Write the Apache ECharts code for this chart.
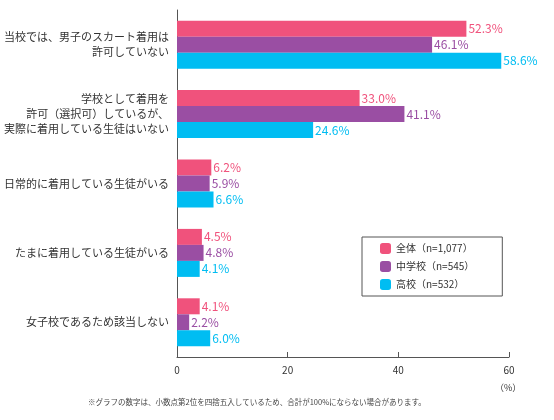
<!DOCTYPE html>
<html><head><meta charset="utf-8">
<script src="https://cdn.jsdelivr.net/npm/echarts@6/dist/echarts.min.js"></script>
<style>body{margin:0}#c{width:554px;height:420px}</style></head>
<body><div id="c"></div>
<script>
var categories = ['当校では、男子のスカート着用は\n許可していない', '学校として着用を\n許可（選択可）しているが、\n実際に着用している生徒はいない', '日常的に着用している生徒がいる', 'たまに着用している生徒がいる', '女子校であるため該当しない'];
var seriesNames = ['全体（n=1,077）', '中学校（n=545）', '高校（n=532）'];
var allData = [52.3, 33.0, 6.2, 4.5, 4.1];
var juniorData = [46.1, 41.1, 5.9, 4.8, 2.2];
var highData = [58.6, 24.6, 6.6, 4.1, 6.0];
var colors = ['#f0527c', '#9a4ea3', '#00bdf2'];
var font = '"Noto Sans CJK JP", sans-serif';

var chart = echarts.init(document.getElementById('c'));
var series = [allData, juniorData, highData].map(function (d, i) {
	return {
		name: seriesNames[i],
		type: 'bar',
		data: d,
		barWidth: 16,
		barGap: '0%',
		itemStyle: { color: colors[i] },
		label: {
			show: true, position: 'right', distance: 2,
			color: colors[i], fontSize: 12, fontFamily: font,
			formatter: function (p) { return p.value.toFixed(1) + '%' }
		}
	}
});
chart.setOption({
	animation: false,
	textStyle: { fontFamily: font },
	grid: { left: 177, right: 45, top: 10, bottom: 63 },
	legend: {
		orient: 'vertical', left: 362, top: 237,
		itemWidth: 11, itemHeight: 11, itemGap: 7,
		borderColor: '#555', borderWidth: 1, borderRadius: 0,
		padding: [6, 28, 6, 18],
		textStyle: { fontSize: 10, color: '#333' },
		data: seriesNames
	},
	xAxis: {
		type: 'value', min: 0, max: 60, interval: 20,
		axisLine: { show: true, lineStyle: { color: '#555' } },
		axisTick: { show: true, inside: true, length: 5, lineStyle: { color: '#555' } },
		splitLine: { show: false },
		axisLabel: { color: '#333', fontSize: 10, margin: 8 },
		name: '（%）', nameLocation: 'end', nameGap: -14,
		nameTextStyle: { fontSize: 9, color: '#333', verticalAlign: 'top', padding: [26, 0, 0, 0] }
	},
	yAxis: {
		type: 'category', inverse: true, data: categories,
		axisLine: { show: true, lineStyle: { color: '#555' } },
		axisTick: { show: false },
		axisLabel: { color: '#333', fontSize: 11, lineHeight: 15, margin: 8 }
	},
	graphic: [{
		type: 'text', left: 88, top: 398,
		style: { text: '※グラフの数字は、小数点第2位を四捨五入しているため、合計が100%にならない場合があります。', fontSize: 7.5, fill: '#444', fontFamily: font }
	}],
	series: series
});
</script></body></html>
